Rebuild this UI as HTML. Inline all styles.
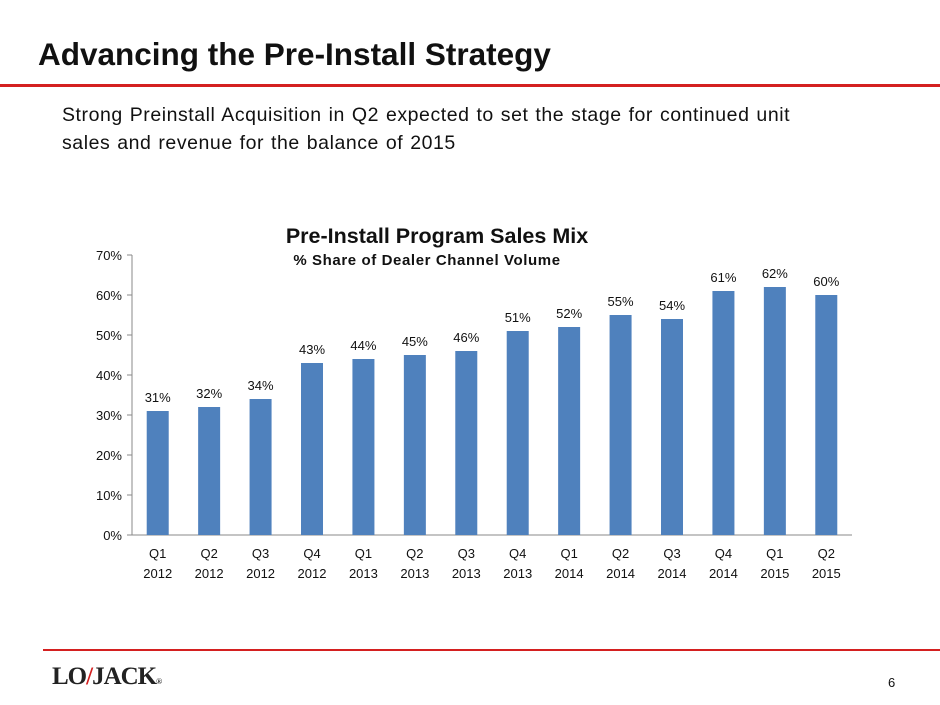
<!DOCTYPE html>
<html><head><meta charset="utf-8"><style>
body{margin:0;width:940px;height:705px;background:#fff;font-family:"Liberation Sans",sans-serif;position:relative;overflow:hidden}
.a{position:absolute}
</style></head><body>
<div class="a" style="left:38px;top:36px;font-size:31.5px;font-weight:bold;color:#111">Advancing the Pre-Install Strategy</div>
<div class="a" style="left:0;top:84px;width:940px;height:3px;background:#d42020"></div>
<div class="a" style="left:62px;top:101px;font-size:19.5px;line-height:28px;color:#111;letter-spacing:0.55px;word-spacing:1px">Strong Preinstall Acquisition in Q2 expected to set the stage for continued unit<br>sales and revenue for the balance of 2015</div>
<svg class="a" style="left:0;top:0" width="940" height="705">
<text x="437" y="243" text-anchor="middle" font-size="21.5" font-weight="bold" fill="#111">Pre-Install Program Sales Mix</text>
<text x="427" y="265" text-anchor="middle" font-size="15" font-weight="bold" letter-spacing="0.6" fill="#111">% Share of Dealer Channel Volume</text>
<g id="g"></g>
</svg>
<div class="a" style="left:43px;top:649px;width:897px;height:2px;background:#d42020"></div>
<div class="a" style="left:52px;top:663px;font-size:25px;font-weight:bold;color:#222;letter-spacing:-1px;font-family:'Liberation Serif',serif">LO<span style="color:#d42020">/</span>JACK<span style="font-size:8px">®</span></div>
<div class="a" style="left:888px;top:675px;font-size:13px;color:#111">6</div>
<script>
const categories=["Q1|2012","Q2|2012","Q3|2012","Q4|2012","Q1|2013","Q2|2013","Q3|2013","Q4|2013","Q1|2014","Q2|2014","Q3|2014","Q4|2014","Q1|2015","Q2|2015"];
const values=[31,32,34,43,44,45,46,51,52,55,54,61,62,60];
const ticks=[0,10,20,30,40,50,60,70];
const NS="http://www.w3.org/2000/svg",g=document.getElementById('g');
const x0=132,x1=852,y0=535,y70=255,step=(x1-x0)/categories.length;
const y=v=>y0-(v/70)*(y0-y70);
function el(t,a){const e=document.createElementNS(NS,t);for(const k in a)e.setAttribute(k,a[k]);g.appendChild(e);return e;}
let ax=el('line',{x1:x0,y1:y70,x2:x0,y2:y0,stroke:'#888'});

let bx=el('line',{x1:x0,y1:y0,x2:x1,y2:y0,stroke:'#888'});

ticks.forEach(t=>{
 el('line',{x1:x0-5,y1:y(t),x2:x0,y2:y(t),stroke:'#888'});
 const tx=el('text',{x:x0-10,y:y(t)+5,'text-anchor':'end','font-size':13,fill:'#111'});tx.textContent=t+'%';
 
});
categories.forEach((c,i)=>{
 const cx=x0+step*(i+0.5),v=values[i];
 const r=el('rect',{x:cx-11,y:y(v),width:22,height:y0-y(v),fill:'#4f81bd'});
 
 const l=el('text',{x:cx,y:y(v)-9,'text-anchor':'middle','font-size':13,fill:'#111'});l.textContent=v+'%';
 
 const [a,b]=c.split('|');
 const t1=el('text',{x:cx,y:558,'text-anchor':'middle','font-size':13,fill:'#111'});t1.textContent=a;
 
 const t2=el('text',{x:cx,y:578,'text-anchor':'middle','font-size':13,fill:'#111'});t2.textContent=b;
 
});
</script>
</body></html>
